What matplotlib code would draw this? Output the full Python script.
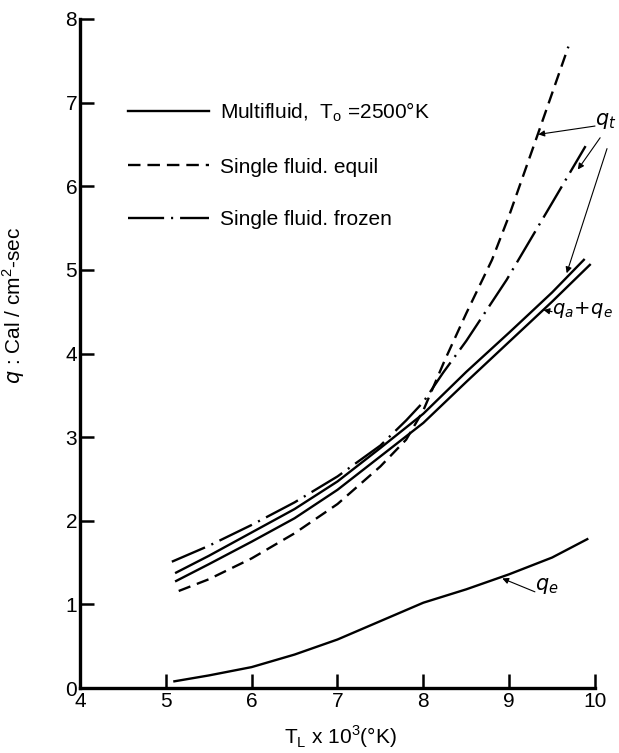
import numpy as np
import matplotlib
matplotlib.use("Agg")
import matplotlib.pyplot as plt

plt.rcParams['font.family'] = ['Liberation Sans', 'DejaVu Sans']
plt.rcParams['mathtext.fontset'] = 'dejavusans'
plt.rcParams['lines.scale_dashes'] = False

# --- data ---
# multifluid, q_t (upper solid)
x_mf = [5.12, 5.5, 6.0, 6.5, 7.0, 7.5, 8.0, 8.5, 9.0, 9.24, 9.5, 9.87]
q_t_mf = [1.38, 1.58, 1.86, 2.14, 2.47, 2.87, 3.28, 3.78, 4.25, 4.48, 4.73, 5.12]
# multifluid, q_a + q_e (lower solid)
x_ae = [5.12, 5.5, 6.0, 6.5, 7.0, 7.5, 8.0, 8.5, 9.0, 9.24, 9.5, 9.94]
q_ae = [1.28, 1.48, 1.75, 2.03, 2.37, 2.77, 3.17, 3.66, 4.14, 4.37, 4.62, 5.06]
# multifluid, q_e
x_e = [5.1, 5.5, 6.0, 6.5, 7.0, 7.5, 8.0, 8.5, 9.0, 9.5, 9.91]
q_e = [0.08, 0.15, 0.25, 0.40, 0.58, 0.80, 1.02, 1.18, 1.36, 1.56, 1.78]
# single fluid, equilibrium
x_eq = [5.15, 5.5, 6.0, 6.5, 7.0, 7.5, 7.8, 8.0, 8.25, 8.5, 8.8, 9.0, 9.34, 9.69]
q_eq = [1.16, 1.30, 1.55, 1.85, 2.20, 2.65, 2.97, 3.32, 3.92, 4.48, 5.12, 5.65, 6.64, 7.67]
# single fluid, frozen
x_fr = [5.07, 5.5, 6.0, 6.5, 7.0, 7.5, 7.8, 8.0, 8.23, 8.5, 8.97, 9.5, 9.89]
q_fr = [1.51, 1.70, 1.95, 2.22, 2.53, 2.90, 3.20, 3.42, 3.77, 4.15, 4.88, 5.80, 6.48]

x_ticks = [4, 5, 6, 7, 8, 9, 10]
y_ticks = [0, 1, 2, 3, 4, 5, 6, 7, 8]

fig = plt.figure(figsize=(6.19, 7.53), dpi=100)
ax = fig.add_axes([80 / 619, 1 - 688 / 753, 515 / 619, 669 / 753])

lw = 1.7
ax.plot(x_mf, q_t_mf, color='black', lw=lw, label='Multifluid,  T$_\\mathregular{o}$ =2500°K')
ax.plot(x_ae, q_ae, color='black', lw=lw)
ax.plot(x_e, q_e, color='black', lw=lw)
ax.plot(x_eq, q_eq, color='black', lw=lw, dashes=(9, 5), label='Single fluid. equil')
ax.plot(x_fr, q_fr, color='black', lw=lw, dashes=(26, 5, 1.5, 5), label='Single fluid. frozen')

ax.set_xlim(4, 10)
ax.set_ylim(0, 8)
ax.set_xticks(x_ticks)
ax.set_yticks(y_ticks)
ax.set_xticklabels([str(v) for v in x_ticks])
ax.set_yticklabels([str(v) for v in y_ticks])
ax.tick_params(direction='in', length=10, width=1.8, labelsize=15, pad=3)
ax.tick_params(axis='y', pad=2)
for s in ['top', 'right']:
    ax.spines[s].set_visible(False)
for s in ['left', 'bottom']:
    ax.spines[s].set_linewidth(2.4)

ax.set_xlabel('T$_\\mathregular{L}$ x 10$^\\mathregular{3}$(°K)', fontsize=15)
ax.xaxis.set_label_coords(0.505, -0.053)
ax.set_ylabel('$q$ : Cal / cm$^\\mathregular{2}$-sec', fontsize=15)
ax.yaxis.set_label_coords(-0.103, 0.572)

ax.legend(loc='upper left', bbox_to_anchor=(0.093, 0.878), frameon=False,
          fontsize=15, handlelength=3.9, handletextpad=0.5, labelspacing=1.6,
          borderpad=0, borderaxespad=0)

# labels with leader arrows
arw = dict(arrowstyle='-|>', color='black', lw=0.8, mutation_scale=9, shrinkA=0, shrinkB=0)
ax.text(10.0, 6.78, '$q_t$', fontsize=15, ha='left', va='center', clip_on=False)
ax.annotate('', xy=(9.34, 6.62), xytext=(10.0, 6.72), arrowprops=arw, annotation_clip=False)
ax.annotate('', xy=(9.8, 6.2), xytext=(10.06, 6.58), arrowprops=arw, annotation_clip=False)
ax.annotate('', xy=(9.67, 4.96), xytext=(10.14, 6.45), arrowprops=arw, annotation_clip=False)

ax.text(9.5, 4.52, '$q_a\\!+\\!q_e$', fontsize=14, ha='left', va='center', clip_on=False)
ax.annotate('', xy=(9.4, 4.52), xytext=(9.5, 4.5), arrowprops=arw, annotation_clip=False)

ax.text(9.3, 1.22, '$q_e$', fontsize=15, ha='left', va='center', clip_on=False)
ax.annotate('', xy=(8.92, 1.31), xytext=(9.3, 1.15), arrowprops=arw, annotation_clip=False)

fig.savefig('out.png', dpi=100)
